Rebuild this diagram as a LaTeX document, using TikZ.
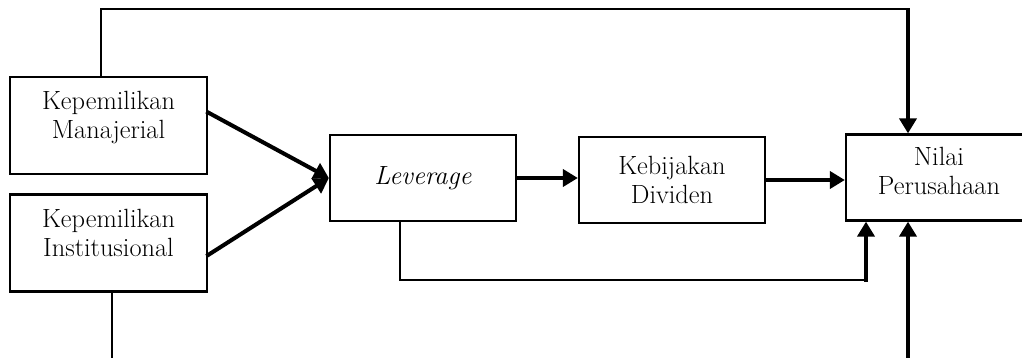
\documentclass[tikz,border=0pt]{standalone}
\usepackage{tikz}
\usetikzlibrary{arrows.meta}
\begin{document}
\begin{tikzpicture}[x=0.02cm,y=-0.02cm,
  box/.style={draw,line width=1.3pt,align=center,inner sep=0pt,
    font=\fontsize{15}{16.5}\selectfont},
  bigbox/.style={box,minimum width=3.94cm,minimum height=1.94cm,text depth=12pt},
  smallbox/.style={box,minimum width=3.72cm,minimum height=1.72cm},
  link/.style={line width=1.1pt},
  mainlink/.style={line width=2.3pt,line cap=rect,-{Triangle[length=0.3cm,width=0.34cm]}}]
\useasboundingbox (0,0) rectangle (1022,358);
\node[bigbox] (manajerial) at (108.5,125.5) {Kepemilikan\\Manajerial};
\node[bigbox] (institusional) at (108.5,243) {Kepemilikan\\Institusional};
\node[smallbox] (leverage) at (423,178) {\textit{Leverage}};
\node[smallbox] (dividen) at (672,180) {Kebijakan\\Dividen};
\node[smallbox,text depth=8pt] (nilai) at (939,177.5) {Nilai\\Perusahaan};
\coordinate (topleft) at (101,9);
\coordinate (topright) at (908,9);
\coordinate (botleft) at (112,390);
\coordinate (botright) at (908,390);
\coordinate (levdown) at (400,280);
\coordinate (levright) at (866,280);
\draw[mainlink] ([yshift=0.26cm]manajerial.east) -- (leverage.west);
\draw[mainlink] ([yshift=-0.24cm]institusional.east) -- (leverage.west);
\draw[mainlink] (leverage.east) -- (leverage.east -| dividen.west);
\draw[mainlink] (dividen.east) -- (dividen.east -| nilai.west);
\draw[link] (topleft |- manajerial.north) -- (topleft) -- (topright);
\draw[mainlink,line cap=butt] ([yshift=0.01cm]topright) -- (topright |- nilai.north);
\draw[link] (levdown |- leverage.south) -- (levdown) -- (levright);
\draw[mainlink] (levright) -- (levright |- nilai.south);
\draw[link] (botleft |- institusional.south) -- (botleft) -- (botright);
\draw[mainlink] (botright) -- (botright |- nilai.south);
\end{tikzpicture}
\end{document}
